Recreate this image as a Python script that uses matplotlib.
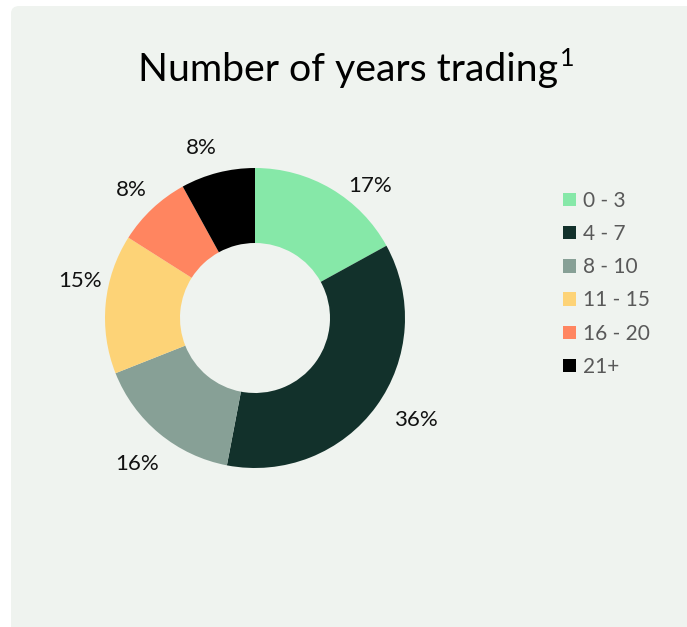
import matplotlib
matplotlib.use("Agg")
import numpy as np
import matplotlib.pyplot as plt
from matplotlib.patches import FancyBboxPatch, Patch

categories = ["0 - 3", "4 - 7", "8 - 10", "11 - 15", "16 - 20", "21+"]
shares = [17, 36, 16, 15, 8, 8]
colors = ["#86E8A8", "#12312B", "#87A096", "#FDD377", "#FF8560", "#000000"]
title = "Number of years trading"

# best-fit label placement: angular nudge (deg) and radial distance
label_nudge = [-10.4, 3.5, 0.6, -6.6, 0.8, 3.1]
label_dist = [1.17, 1.27, 1.25, 1.19, 1.19, 1.19]

W, H = 687, 627
fig = plt.figure(figsize=(W / 100, H / 100), dpi=100)
fig.patch.set_facecolor("white")

# light panel behind the chart
panel = FancyBboxPatch((11 / W, -0.05), 1.2, (H - 6) / H + 0.05,
                       boxstyle="round,pad=0,rounding_size=0.012",
                       transform=fig.transFigure, facecolor="#EFF3EF",
                       edgecolor="none", zorder=-5)
fig.patches.append(panel)

font = ["Lato", "DejaVu Sans"]

cx, cy, r = 255, H - 318, 150
ax = fig.add_axes([(cx - r) / W, (cy - r) / H, 2 * r / W, 2 * r / H])
ax.set_facecolor("none")
wedges, texts, autotexts = ax.pie(
    shares, colors=colors, startangle=90, counterclock=False, radius=1,
    wedgeprops=dict(width=0.5, edgecolor="none"),
    autopct=lambda p: f"{p:.0f}%", pctdistance=1.2,
    textprops=dict(fontsize=16, family=font, color="#111111"))
for w, at, dn, dr in zip(wedges, autotexts, label_nudge, label_dist):
    a = np.deg2rad((w.theta1 + w.theta2) / 2 + dn)
    at.set_position((dr * np.cos(a), dr * np.sin(a)))
    at.set_ha("center")
    at.set_va("center")
ax.set_xlim(-1, 1)
ax.set_ylim(-1, 1)
ax.set_aspect("equal")
ax.axis("off")

t = fig.text(348 / W, 1 - 81 / H, title, ha="center", va="baseline",
             fontsize=28.3, family=font, color="#000000")
fig.canvas.draw()
bb = t.get_window_extent()
fig.text((bb.x1 + 2) / W, 1 - 66 / H, "1", ha="left", va="baseline",
         fontsize=18, family=font, color="#000000")

handles = [Patch(facecolor=c, edgecolor="none") for c in colors]
leg = fig.legend(handles, categories, loc="upper left",
                 bbox_to_anchor=(563 / W, 1 - 191 / H), frameon=False,
                 prop=dict(family=font, size=15), labelcolor="#595959",
                 handlelength=0.6, handleheight=0.6, handletextpad=0.35,
                 labelspacing=0.63, borderaxespad=0, borderpad=0)

fig.savefig("out.png", dpi=100, facecolor=fig.get_facecolor())
